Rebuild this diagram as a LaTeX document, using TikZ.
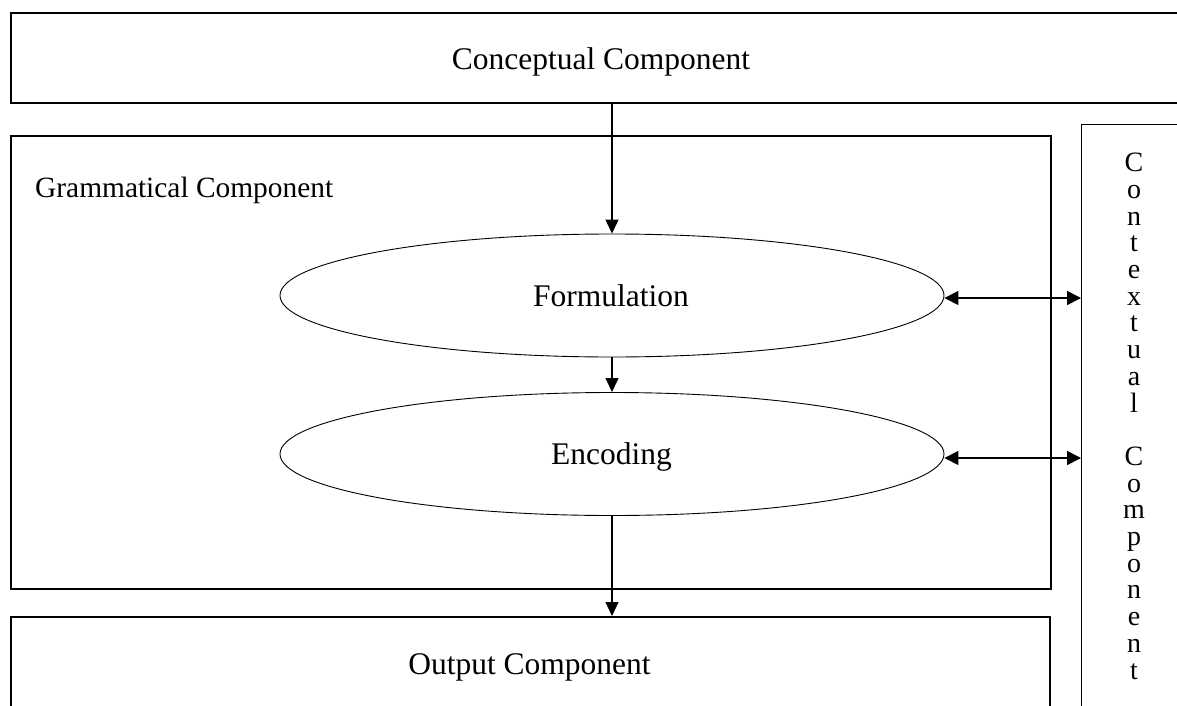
\documentclass[tikz,border=0pt]{standalone}
\usepackage{fontspec}
\setmainfont{Liberation Serif}
\usetikzlibrary{arrows.meta,shapes.geometric}
\begin{document}
\begin{tikzpicture}[x=1pt,y=-1pt,
  boxthick/.style={draw, line width=2pt, rectangle, inner sep=0pt, anchor=north west},
  oval/.style={draw, ellipse, line width=0.9pt, inner sep=0pt, minimum width=664pt, minimum height=123pt},
  lbl/.style={inner sep=0pt, font=\fontsize{31.5}{36}\selectfont},
  arr/.style={line width=1.2pt, -{Triangle[length=14pt,width=13pt]}},
  darr/.style={line width=1.6pt, {Triangle[length=14pt,width=14pt]}-{Triangle[length=14pt,width=14pt]}}]
\useasboundingbox (0,0) rectangle (1177,706);
% boxes
\node[boxthick, line width=1.6pt, minimum width=1182pt, minimum height=90pt] (concept) at (10,12) {};
\node[boxthick, minimum width=1040pt, minimum height=453pt] (gram) at (10,135) {};
\node[boxthick, minimum width=1039pt, minimum height=120pt] (out) at (10,616) {};
\node[boxthick, line width=1.4pt, minimum width=120pt, minimum height=620pt] (ctx) at (1081,124) {};
% ellipses
\node[oval] (f) at (612,295.5) {};
\node[oval] (e) at (612,454) {};
% texts
\node[lbl, anchor=base] (tconcept) at (601,70) {Conceptual Component};
\node[lbl, anchor=base west, font=\fontsize{29.4}{34}\selectfont] (tgram) at (35,197) {Grammatical Component};
\node[lbl, anchor=base] (tform) at (611,306) {Formulation};
\node[lbl, anchor=base] (tenc) at (611.5,464) {Encoding};
\node[lbl, anchor=base] (tout) at (529.5,674) {Output Component};
\node[inner sep=0pt, anchor=north, align=center, font=\fontsize{28}{26.7}\selectfont] (tctx) at (1134,153)
  {C\\o\\n\\t\\e\\x\\t\\u\\a\\l\\~\\C\\o\\m\\p\\o\\n\\e\\n\\t};
% arrows
\draw[arr] (concept.south -| f.north) -- (f.north);
\draw[arr] (f.south) -- (e.north);
\draw[arr] (e.south) -- (e.south |- out.north);
\draw[darr] ([yshift=-2.5pt]f.east) -- ([yshift=-2.5pt]f.east -| ctx.west);
\draw[darr] ([yshift=-4pt]e.east) -- ([yshift=-4pt]e.east -| ctx.west);
\end{tikzpicture}
\end{document}
